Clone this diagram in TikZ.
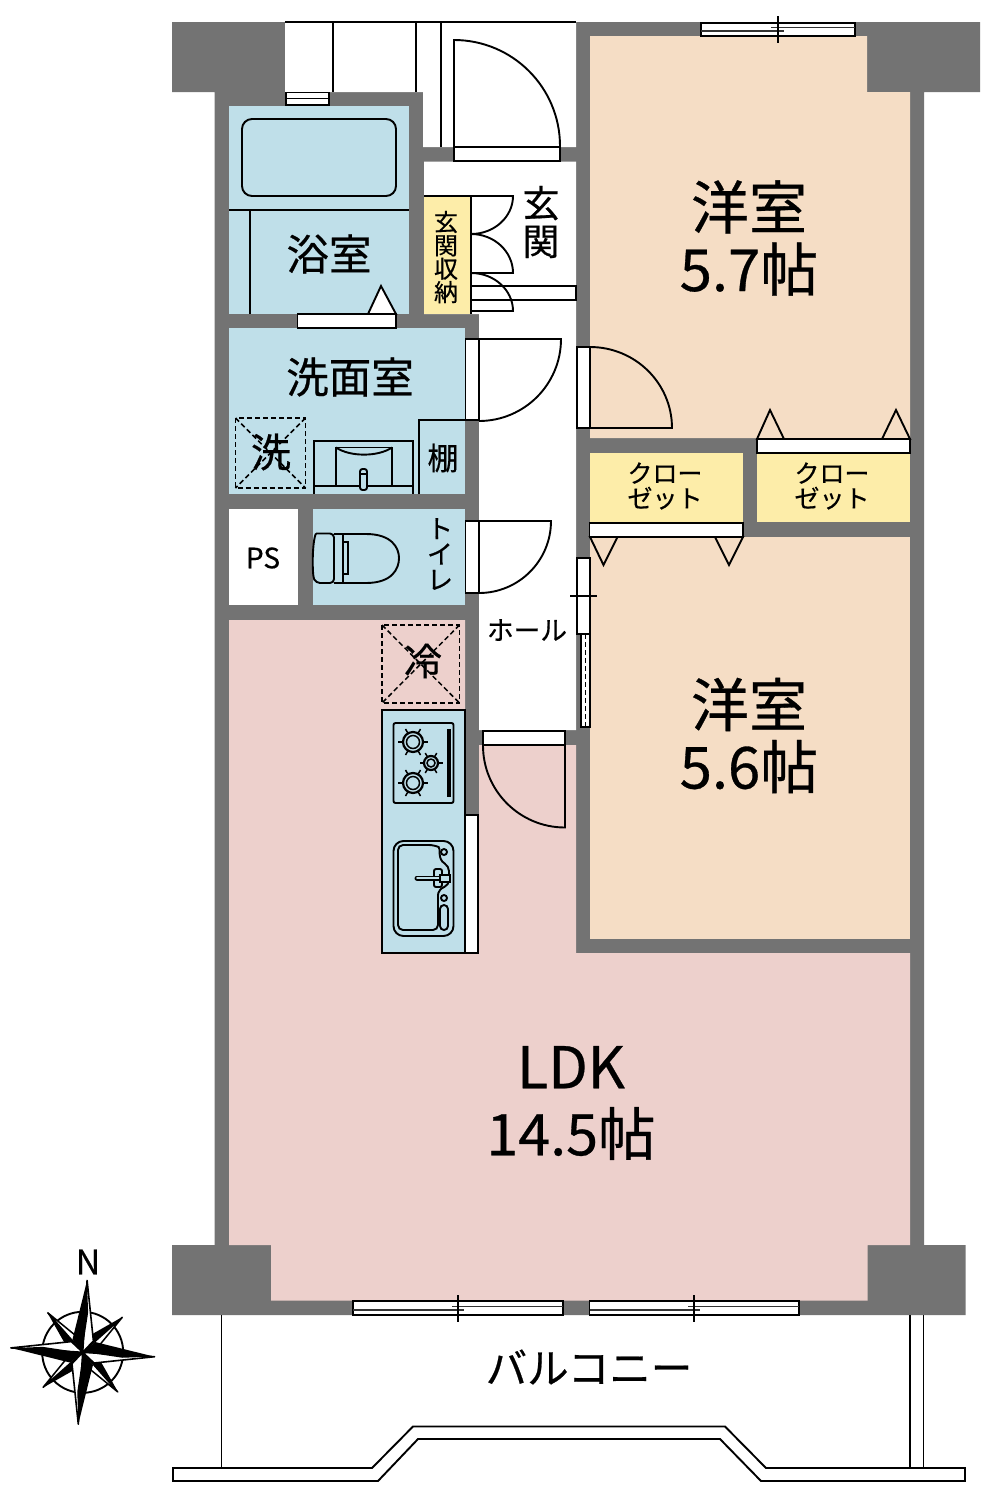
\documentclass[tikz,border=0pt]{standalone}
\usepackage{fontspec}
\setmainfont[FakeBold=0.5]{Noto Sans CJK JP}
\usetikzlibrary{positioning,calc}
\definecolor{wallgray}{HTML}{737373}
\definecolor{wetblue}{HTML}{BFDFE9}
\definecolor{roompeach}{HTML}{F5DDC5}
\definecolor{ldkpink}{HTML}{EDD0CC}
\definecolor{closetyellow}{HTML}{FDEDA9}
\newcommand{\jpfont}[2]{\fontsize{#1}{#2}\selectfont}
\tikzset{
	room/.style={fill=#1, draw=none},
	fixture/.style={draw=black, line width=1.9},
	panel/.style={draw=black, fill=white, line width=1.9},
	thinline/.style={draw=black, line width=1.5},
	guide/.style={draw=black, line width=1.5, dash pattern=on 5pt off 3pt},
	winline/.style={draw=black!80, line width=1.5},
	boxlabel/.style 2 args={align=center, text=black, font=\jpfont{#1}{#2}}
}
\begin{document}
\begin{tikzpicture}[x=1pt,y=-1pt,line join=miter]
	\tikzstyle{every node}+=[inner sep=0pt]
	\useasboundingbox (0,0) rectangle (991,1500);
	% walls
	\fill [wallgray] (172,22) -- (980,22) -- (980,92) -- (924,92) -- (924,1245) -- (965.5,1245) -- (965.5,1315) -- (172,1315) -- (172,1245) -- (214.5,1245) -- (214.5,92) -- (172,92) -- cycle;
	\fill [white] (285,22) -- (576,22) -- (576,147) -- (423,147) -- (423,92) -- (285,92) -- cycle;
	\draw [thinline] (285,22) -- (576,22);
	\draw [thinline] (333,22) -- (333,92);
	\draw [thinline] (416,22) -- (416,92);
	\draw [thinline] (441,22) -- (441,147);
	% rooms
	\fill [white] (424,161.5) -- (576,161.5) -- (576,730) -- (479,730) -- (479,314) -- (424,314) -- cycle;
	\fill [room=wetblue] (229,106) rectangle (409,314);
	\fill [room=wetblue] (229,328) rectangle (465,494);
	\fill [room=wetblue] (313,509) rectangle (465,605);
	\fill [white] (229,509) rectangle (298,605);
	\fill [room=closetyellow] (424,196) rectangle (471,314);
	\fill [room=roompeach] (590,36) -- (867,36) -- (867,92) -- (910,92) -- (910,438) -- (590,438) -- cycle;
	\fill [room=roompeach] (590,537) rectangle (910,939);
	\fill [room=closetyellow] (590,453) rectangle (743,523);
	\fill [room=closetyellow] (757,453) rectangle (910,522);
	\fill [room=ldkpink] (229,620) -- (465,620) -- (465,953) -- (479,953) -- (479,745) -- (576,745) -- (576,953) -- (910,953) -- (910,1245) -- (867.5,1245) -- (867.5,1300.5) -- (271,1300.5) -- (271,1245) -- (229,1245) -- cycle;
	% entrance door and closet doors
	\draw [panel] (454,147) rectangle (560,161);
	\draw [fixture] (454,147) -- (454,40) arc[start angle=-90,end angle=0,radius=106];
	\draw [fixture] (424,196) -- (471,196) -- (471,314);
	\draw [panel] (471,286) rectangle (576,300);
	\draw [fixture] (471,196) -- (513,196) arc[start angle=0,end angle=90,x radius=42,y radius=38];
	\draw [fixture] (471,234) arc[start angle=-90,end angle=0,x radius=42,y radius=39] -- (471,273);
	\draw [fixture] (471,273) arc[start angle=-90,end angle=0,x radius=42,y radius=38] -- (471,311);
	% bathroom
	\draw [panel] (286,92.5) rectangle (329,105);
	\draw [thinline] (286,98.5) -- (329,98.5);
	\draw [fixture, rounded corners=10pt] (242,119) rectangle (396,196);
	\draw [fixture] (229,210) -- (409,210);
	\draw [fixture] (250,210) -- (250,314);
	\draw [panel] (368,314) -- (381,286) -- (396,314) -- cycle;
	\draw [panel] (297.5,314) rectangle (396,328);
	% washroom
	\draw [panel] (465.5,339) rectangle (479,420);
	\draw [fixture] (479,339) -- (561,339) arc[start angle=0,end angle=90,radius=82];
	\draw [fixture] (419,494) -- (419,420) -- (479,420);
	\draw [fixture] (314,494) -- (314,441) -- (413,441) -- (413,494);
	\draw [fixture] (314,486) -- (413,486);
	\draw [fixture] (336,486) -- (336,447.5) -- (392,447.5) -- (392,486);
	\draw [fixture] (336,447.5) .. controls (350,457) and (378,457) .. (392,447.5);
	\draw [fixture, rounded corners=2.5pt, fill=wetblue] (360,469) rectangle (367,490);
	\draw [thinline] (360,474) -- (367,474);
	\draw [guide] (235.5,418) rectangle (305.5,488);
	\draw [guide] (235.5,418) -- (305.5,488);
	\draw [guide] (305.5,418) -- (235.5,488);
	% toilet
	\draw [panel] (465.5,521) rectangle (479,593);
	\draw [fixture] (479,521) -- (551,521) arc[start angle=0,end angle=90,radius=72];
	\draw [fixture, rounded corners=4pt] (316,533.5) -- (334,533.5) -- (334,583) -- (316,583) .. controls (312,575) and (312,541) .. (316,533.5);
	\draw [fixture] (334,534) -- (366,534) .. controls (392,534) and (399,548) .. (399,558) .. controls (399,569) and (392,583) .. (366,583) -- (334,583);
	\draw [fixture] (343,534) -- (343,583);
	\draw [thinline] (343,542) rectangle (348,574);
	% doors on the hall
	\draw [panel] (577,347) rectangle (590,428);
	\draw [fixture] (590,428) -- (672,428) arc[start angle=0,end angle=-90,x radius=82,y radius=81];
	\draw [panel] (483,731) rectangle (565,745);
	\draw [fixture] (565,745) -- (565,827.5) arc[start angle=90,end angle=180,radius=82];
	\draw [panel] (581,634) rectangle (590,727);
	\draw [guide] (585.5,634) -- (585.5,727);
	\draw [panel] (577,558) rectangle (590,634);
	\draw [thinline] (570,596) -- (597,596);
	% closet doors
	\draw [panel, fill=roompeach] (757,439) -- (770,410) -- (784,439) -- cycle;
	\draw [panel, fill=roompeach] (882,439) -- (896,410) -- (910,439) -- cycle;
	\draw [panel] (757,439) rectangle (910,453);
	\draw [fixture, fill=roompeach] (590,537) -- (603.5,565) -- (617.5,537) -- cycle;
	\draw [fixture, fill=roompeach] (715,537) -- (729,565) -- (743,537) -- cycle;
	\draw [panel] (589.5,523) rectangle (743,537);
	% kitchen
	\draw [guide] (382,625) rectangle (459.5,703);
	\draw [guide] (382,625) -- (459.5,703);
	\draw [guide] (459.5,625) -- (382,703);
	\draw [draw=black, fill=wetblue, line width=2.2] (382,710) rectangle (465,953);
	\fill [white] (466,815) rectangle (478,953);
	\draw [thinline] (466,815) -- (478,815) -- (478,953) -- (466,953);
	\draw [fixture, rounded corners=2pt] (393.5,723) rectangle (453.5,803);
	\fill [black] (447,729) rectangle (450.5,797);
	\foreach \cx/\cy/\ro/\ri/\rt in {413/742/10/6.5/15, 431/763/7/4/11.5, 413/783/10/6.5/15} {
		\draw [black, line width=2.2] (\cx,\cy) circle (\ro);
		\draw [thinline] (\cx,\cy) circle (\ri);
		\foreach \ang in {0,60,120,180,240,300}
			\draw [thinline] ($(\cx,\cy)+(\ang:\ro)$) -- ($(\cx,\cy)+(\ang:\rt)$);
	}
	\draw [fixture, rounded corners=10pt] (393.5,841) rectangle (453.5,936);
	\draw [fixture, rounded corners=5pt] (398,845) -- (434,845) .. controls (441,848) and (437,859) .. (449,866) -- (449,885) .. controls (437,890) and (438,896) .. (438,902) -- (438,930) -- (398,930) -- cycle;
	\draw [fixture] (444,852) circle (3);
	\draw [fixture] (444,898) circle (3);
	\draw [fixture, rounded corners=4pt] (440,905) rectangle (448,930);
	\draw [fixture, fill=wetblue, rounded corners=2pt] (434,869) rectangle (442,887);
	\draw [black, line width=5, line cap=round] (417,878) -- (440,878);
	\draw [wetblue, line width=2, line cap=round] (417,878) -- (440,878);
	\draw [fixture, fill=wetblue] (440,875) rectangle (450,882);
	% windows
	\draw [panel] (701,23) rectangle (855,36);
	\draw [winline] (771,27.5) -- (855,27.5);
	\draw [winline] (701,31) -- (784,31);
	\draw [thinline] (778,16) -- (778,43);
	\foreach \wl/\wr/\wt in {353/563/458, 589.5/799/694} {
		\draw [panel] (\wl,1301) rectangle (\wr,1315);
		\draw [black, line width=2.4] (\wl,1315) -- (\wr,1315);
		\draw [winline] (\wl,1310) -- (\wt+6,1310);
		\draw [winline] (\wt-6,1306.5) -- (\wr,1306.5);
		\draw [thinline] (\wt,1295) -- (\wt,1322);
	}
	% balcony
	\draw [fixture] (221.5,1315) -- (221.5,1468);
	\draw [fixture] (910,1315) -- (910,1468);
	\draw [fixture] (923.5,1315) -- (923.5,1468);
	\draw [fixture] (173,1468) -- (372,1468) -- (413,1426.5) -- (725,1426.5) -- (766,1468) -- (965,1468) -- (965,1481) -- (761,1481) -- (720,1439) -- (418,1439) -- (378,1481) -- (173,1481) -- cycle;
	% compass
	\draw [black, line width=1.9] (82.7,1352.3) circle (40.5);
	\begin{scope}[shift={(82.7,1352.3)}, rotate=-3.5]
		\foreach \ang in {45,135,225,315} {
			\begin{scope}[rotate=-\ang]
				\draw [draw=black, fill=white, line width=1.5] (0,0) -- (0,-53) -- (6,-16) -- cycle;
				\fill [black] (0,0) -- (0,-54) -- (-8,-16) -- cycle;
			\end{scope}
		}
		\foreach \ang in {0,90,180,270} {
			\begin{scope}[rotate=-\ang]
				\draw [draw=black, fill=white, line width=1.6, line join=round] (0,0) -- (0,-72) -- (10,-12) -- cycle;
				\fill [black] (0,0) -- (0,-72) -- (-11,-12) -- cycle;
				\fill [black] (0,-6) -- (0,-70) -- (3,-40) -- cycle;
			\end{scope}
		}
	\end{scope}
	% labels
	\node [boxlabel={58}{62}] (west) at (749,238) {洋室\\5.7帖};
	\node [boxlabel={58}{62}] (east) at (749,735.5) {洋室\\5.6帖};
	\node [boxlabel={57.5}{67}] (ldk) at (571,1103) {LDK\\14.5帖};
	\node [boxlabel={42.5}{42.5}] (bath) at (329,254) {浴室};
	\node [boxlabel={42.5}{42.5}] (wash) at (350,377) {洗面室};
	\node [boxlabel={37}{38}] (genkan) at (541,222) {玄\\関};
	\node [boxlabel={24}{23.4}] (shoes) at (446,257) {玄\\関\\収\\納};
	\node [boxlabel={31}{31}] (shelf) at (443,458) {棚};
	\node [boxlabel={40}{40}] (washer) at (271,452) {洗};
	\node [boxlabel={38}{38}] (fridge) at (423,661) {冷};
	\node [boxlabel={28}{28}] (ps) at (263,558) {PS};
	\node [boxlabel={26}{25.5}] (wc) at (440,554) {ト\\イ\\レ};
	\node [boxlabel={26.7}{26.7}] (hall) at (527,630) {ホール};
	\node [boxlabel={25}{25}] (closeta) at (665,486) {クロー\\ゼット};
	\node [boxlabel={25}{25}] (closetb) at (832,486) {クロー\\ゼット};
	\node [boxlabel={41.5}{41.5}] (balcony) at (589,1367) {バルコニー};
	\node [boxlabel={34}{34}] (north) at (88,1262) {N};
\end{tikzpicture}
\end{document}
